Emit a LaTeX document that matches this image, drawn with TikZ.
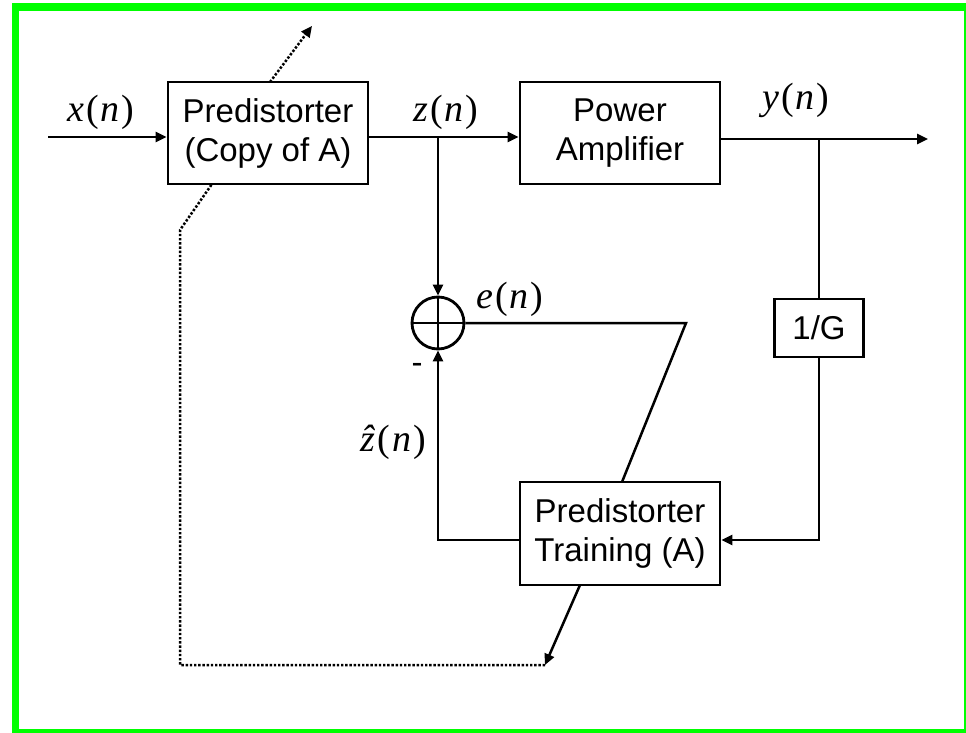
\documentclass[tikz,border=0pt]{standalone}
\usepackage{fontspec}
\setmainfont{Liberation Sans}
\newfontfamily\tms{Liberation Serif}
\usetikzlibrary{arrows.meta,calc}
\newcommand\sig[1]{{\tms\fontsize{38}{38}\selectfont\textit{#1}\kern2.5pt(\kern1.5pt\textit{n}\kern2pt)}}
\tikzset{
  blk/.style={draw, line width=2.8pt, inner sep=0pt, align=center, font=\fontsize{33}{39}\selectfont},
  wire/.style={line width=2.5pt},
  arr/.style={wire, -{Triangle[length=11pt,width=10pt]}},
  dotl/.style={line width=2.5pt, dash pattern=on 2.4pt off 1.8pt},
  lab/.style={inner sep=0pt}
}
\begin{document}
\begin{tikzpicture}[x=1pt,y=-1pt]
\useasboundingbox (0,0) rectangle (966,733);
\clip (0,0) rectangle (966,733);
\draw[line width=7.5pt, draw={rgb,255:red,0;green,255;blue,0}] (15.5,7) rectangle (967.5,732.75);

\node[blk, minimum width=200pt, minimum height=102pt] (pre) at (268,133) {Predistorter\\(Copy of A)};
\node[blk, minimum width=200pt, minimum height=102pt] (pa) at (620,133) {Power\\Amplifier};
\node[blk, minimum width=89pt, minimum height=58pt] (g) at (819,328) {1/G};
\node[blk, minimum width=200pt, minimum height=103pt] (tr) at (620,533.5) {Predistorter\\Training (A)};
\node[draw, circle, line width=2.8pt, minimum size=52pt, inner sep=0pt] (sum) at (438,323) {};
\draw[line width=2.8pt] (sum.west) -- (sum.east) (sum.north) -- (sum.south);

% coordinates
\coordinate (xin) at (48,137);
\coordinate (j1) at (438,137);
\coordinate (j2) at (819,139);
\coordinate (yout) at (928,139);
\coordinate (gb) at (819,540);
\coordinate (zb) at (438,540);
\coordinate (ec) at (686,323);
\coordinate (et) at (622,482);
\coordinate (as) at (580,585);
\coordinate (ae) at (545,665);
\coordinate (dl) at (180,665);
\coordinate (du) at (180,230);
\coordinate (db) at (212,184);
\coordinate (dt1) at (270,82);
\coordinate (dt2) at (312,26);

% connectors
\draw[arr] (xin) -- (xin -| pre.west);
\draw[arr] (xin -| pre.east) -- (xin -| pa.west);
\draw[arr] (yout -| pa.east) -- (yout);
\draw[arr] (j1) -- (sum.north);
\draw[wire] (j2) -- (g.north);
\draw[arr] (g.south) -- (gb) -- (gb -| tr.east);
\draw[arr] (zb -| tr.west) -- (zb) -- (sum.south);
\draw[wire, line join=miter] (sum.east) -- (ec) -- (et);
\draw[arr] (as) -- (ae);
\draw[dotl] (ae) -- (dl) -- (du) -- (db);
\draw[dotl, -{Triangle[length=11pt,width=10pt]}] (dt1) -- (dt2);

% labels
\node[lab] (lx) at (101,112) {\sig{x}};
\node[lab] (lz) at (446,112) {\sig{z}};
\node[lab] (ly) at (796,100) {\sig{y}};
\node[lab] (le) at (510,299) {\sig{e}};
\node[lab] (lzh) at (393,442) {\sig{\^z}};
\node[lab, font=\fontsize{33}{33}\selectfont] (lm) at (417,368) {-};
\end{tikzpicture}
\end{document}
